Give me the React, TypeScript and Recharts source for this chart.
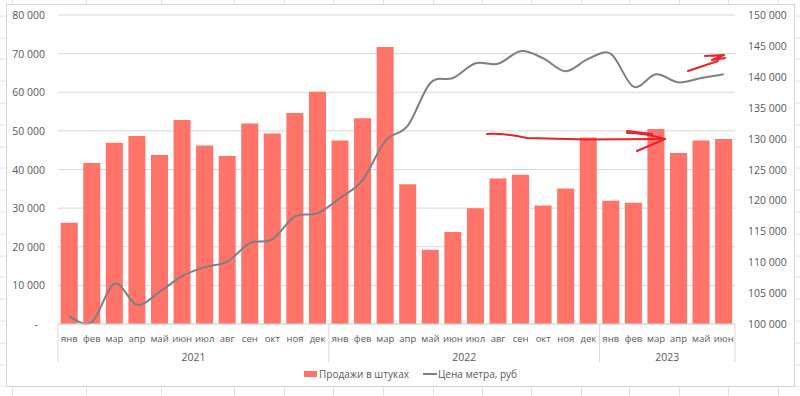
import React from "react";
import {
  ComposedChart,
  Bar,
  Line,
  XAxis,
  YAxis,
  CartesianGrid,
} from "recharts";

const MONTHS = ["янв", "фев", "мар", "апр", "май", "июн", "июл", "авг", "сен", "окт", "ноя", "дек"];
const YEARS = ["2021", "2022", "2023"];
const MONTHS_IN_YEAR = [12, 12, 6];

// продажи в штуках, янв 2021 – июн 2023
const SALES = [
  26200, 41700, 46900, 48700, 43750, 52800, 46200, 43500, 51900, 49300, 54600, 60100,
  47500, 53300, 71700, 36200, 19200, 23800, 29950, 37700, 38650, 30700, 35100, 48300,
  31900, 31400, 50500, 44300, 47500, 47900,
];

// цена метра, руб
const PRICE = [
  101200, 100300, 106550, 103100, 105200, 107750, 109200, 110100, 113100, 113700, 117400, 117900,
  120400, 123300, 129600, 132100, 139000, 139800, 142200, 142100, 144150, 143000, 140900, 142900,
  143700, 138400, 140400, 139100, 139800, 140400,
];

const LEFT_TICKS = [0, 10000, 20000, 30000, 40000, 50000, 60000, 70000, 80000];
const RIGHT_TICKS = [100000, 105000, 110000, 115000, 120000, 125000, 130000, 135000, 140000, 145000, 150000];

const periods: { key: string; month: string; year: string }[] = [];
YEARS.forEach((y, yi) => {
  for (let m = 0; m < MONTHS_IN_YEAR[yi]; m++) {
    periods.push({ key: `${y}-${m + 1}`, month: MONTHS[m], year: y });
  }
});

const data = periods.map((p, i) => ({ ...p, sales: SALES[i], price: PRICE[i] }));

const W = 800;
const H = 396;
const PLOT_LEFT = 58;
const PLOT_RIGHT = 735;
const BAND = (PLOT_RIGHT - PLOT_LEFT) / data.length;
const TEXT = "#595959";
const FONT = "'Open Sans', sans-serif";
const SEP = "#D9D9D9";

// Excel-like smoothing (Catmull-Rom through points)
function excelSmooth(context: any) {
  let pts: [number, number][] = [];
  return {
    areaStart() {},
    areaEnd() {},
    lineStart() {
      pts = [];
    },
    point(x: number, y: number) {
      pts.push([+x, +y]);
    },
    lineEnd() {
      const n = pts.length;
      if (!n) return;
      context.moveTo(pts[0][0], pts[0][1]);
      for (let i = 0; i < n - 1; i++) {
        const p0 = pts[Math.max(0, i - 1)];
        const p1 = pts[i];
        const p2 = pts[i + 1];
        const p3 = pts[Math.min(n - 1, i + 2)];
        context.bezierCurveTo(
          p1[0] + (p2[0] - p0[0]) / 6,
          p1[1] + (p2[1] - p0[1]) / 6,
          p2[0] - (p3[0] - p1[0]) / 6,
          p2[1] - (p3[1] - p1[1]) / 6,
          p2[0],
          p2[1]
        );
      }
    },
  };
}

const fmt = (v: number) => (v === 0 ? "-" : v.toLocaleString("ru-RU").replace(/\s/g, " "));

const LeftTick = ({ x, y, payload }: any) => (
  <text
    x={payload.value === 0 ? x - 7 : x}
    y={y}
    dy={4}
    textAnchor="end"
    fill={TEXT}
    fontSize={10.5}
    fontFamily={FONT}
  >
    {fmt(payload.value)}
  </text>
);

const RightTick = ({ x, y, payload }: any) => (
  <text x={x} y={y} dy={4} textAnchor="start" fill={TEXT} fontSize={10.5} fontFamily={FONT}>
    {fmt(payload.value)}
  </text>
);

// first / last index of each year
const yearSpans = YEARS.map((y, yi) => {
  const first = periods.findIndex((p) => p.year === y);
  const last = first + MONTHS_IN_YEAR[yi] - 1;
  return { year: y, first, last };
});

const MonthTick = ({ x, y, payload }: any) => {
  const i = periods.findIndex((p) => p.key === payload.value);
  if (i < 0) return null;
  const half = BAND / 2;
  const parts: React.ReactNode[] = [];
  yearSpans.forEach((s) => {
    if (i === s.first) {
      parts.push(<line key={"l" + s.year} x1={x - half} x2={x - half} y1={y} y2={y + 38} stroke={SEP} />);
    }
    if (i === data.length - 1 && i === s.last) {
      parts.push(<line key={"r" + s.year} x1={x + half} x2={x + half} y1={y} y2={y + 38} stroke={SEP} />);
    }
    const mid = (s.first + s.last) / 2;
    if (Math.floor(mid) === i) {
      const cx = mid === i ? x : x + half;
      parts.push(
        <text key={"y" + s.year} x={cx} y={y + 37} textAnchor="middle" fill={TEXT} fontSize={10.5} fontFamily={FONT}>
          {s.year}
        </text>
      );
    }
  });
  return (
    <g>
      <text x={x} y={y + 18} textAnchor="middle" fill={TEXT} fontSize={9.5} fontFamily={FONT}>
        {periods[i].month}
      </text>
      {parts}
    </g>
  );
};

// excel sheet behind the chart
const SHEET_COLS = [12, 86, 161, 234, 284, 333, 383, 433, 482, 531, 581, 629, 679, 728, 778];

export default function App() {
  return (
    <div
      style={{
        position: "absolute",
        left: 0,
        top: 0,
        width: W,
        height: H,
        overflow: "hidden",
        background: "#fff",
        backgroundImage: "repeating-linear-gradient(to bottom, transparent 0px, transparent 20.8px, #E3E3E3 20.8px, #E3E3E3 21.8px)",
        backgroundPosition: "0 -5.4px",
      }}
    >
      {SHEET_COLS.map((cx) => (
        <div key={cx} style={{ position: "absolute", left: cx, top: 0, width: 1, height: H, background: "#E3E3E3" }} />
      ))}
      <div
        style={{
          position: "absolute",
          left: 6,
          top: 4,
          width: 787,
          height: 381,
          background: "#fff",
          border: "1px solid #D6D6D6",
        }}
      />
      <div style={{ position: "absolute", left: 0, top: 0 }}>
        <ComposedChart
          width={W}
          height={H}
          data={data}
          margin={{ top: 15, right: 0, left: 8, bottom: 22 }}
          barCategoryGap="12%"
        >
          <CartesianGrid yAxisId="left" vertical={false} stroke={SEP} />
          <XAxis
            dataKey="key"
            interval={0}
            height={50}
            tickLine={false}
            tickSize={0}
            tickMargin={0}
            axisLine={{ stroke: SEP }}
            tick={<MonthTick />}
          />
          <YAxis
            yAxisId="left"
            width={50}
            domain={[0, 80000]}
            ticks={LEFT_TICKS}
            axisLine={false}
            tickLine={false}
            tickMargin={7}
            tick={<LeftTick />}
          />
          <YAxis
            yAxisId="right"
            orientation="right"
            width={65}
            domain={[100000, 150000]}
            ticks={RIGHT_TICKS}
            axisLine={false}
            tickLine={false}
            tickMargin={7}
            tick={<RightTick />}
          />
          <Bar yAxisId="left" dataKey="sales" fill="#FF7369" isAnimationActive={false} />
          <Line
            yAxisId="right"
            dataKey="price"
            type={excelSmooth as any}
            stroke="#7F7F7F"
            strokeWidth={2}
            dot={false}
            activeDot={false}
            isAnimationActive={false}
          />
        </ComposedChart>
      </div>

      {/* hand-drawn annotation arrows */}
      <svg width={W} height={H} style={{ position: "absolute", left: 0, top: 0, pointerEvents: "none" }}>
        <g fill="none" stroke="#E8212B" strokeWidth={2} strokeLinecap="round" strokeLinejoin="round">
          <path d="M487 134 Q503 133 527 138 L587 139.5 L665 139" />
          <path d="M627 133 Q645 133 665 139 L637 151" />
          <path d="M627 131 L652 134" />
          <path d="M688 71 L718 61" />
          <path d="M705 56 L724 55 L712 60 L725 58" />
        </g>
      </svg>

      {/* legend */}
      <div
        style={{
          position: "absolute",
          top: 367,
          left: 304,
          display: "flex",
          alignItems: "center",
          fontFamily: FONT,
          fontSize: 10,
          color: TEXT,
          whiteSpace: "nowrap",
        }}
      >
        <span style={{ display: "inline-block", width: 13, height: 6, background: "#FF7369", marginRight: 2 }} />
        <span>Продажи в штуках</span>
        <span style={{ display: "inline-block", width: 14, height: 2, background: "#7F7F7F", marginLeft: 14, marginRight: 1 }} />
        <span>Цена метра, руб</span>
      </div>
    </div>
  );
}
